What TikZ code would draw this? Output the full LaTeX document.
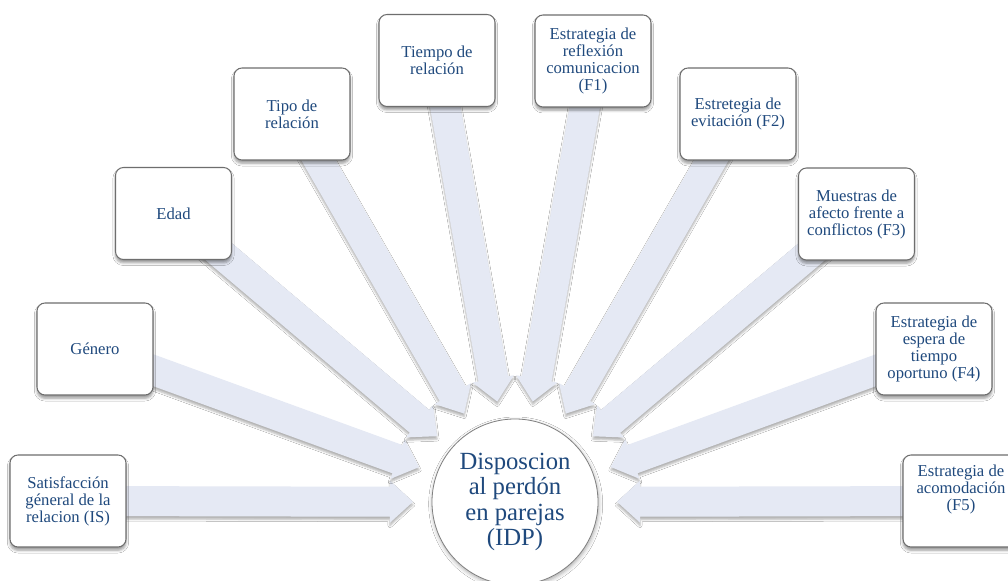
\documentclass[tikz,border=0pt]{standalone}
\usepackage{fontspec}
\setmainfont{Liberation Serif}
\usetikzlibrary{calc,shadows.blur}
\definecolor{txt}{HTML}{1F497D}
\definecolor{arrfill}{RGB}{229,233,244}
\definecolor{bordergray}{HTML}{6E6E6E}
\pgfdeclarelayer{bg}
\pgfsetlayers{bg,main}
\tikzset{
  box/.style={draw=bordergray, line width=0.8pt, fill=white, rounded corners=6pt,
    minimum width=87pt, minimum height=69pt, align=center, text=txt,
    font=\fontsize{12.5}{12.75}\selectfont, inner sep=1pt,
    blur shadow={shadow xshift=0pt, shadow yshift=-2.5pt, shadow blur radius=2pt, shadow opacity=40}},
  boxtext/.style={align=center, text=txt, font=\fontsize{12.5}{12.75}\selectfont, inner sep=0pt},
  hub/.style={circle, draw=gray, line width=0.6pt, fill=white, minimum size=124.5pt, inner sep=0pt,
    blur shadow={shadow xshift=0.5pt, shadow yshift=-1.5pt, shadow blur radius=3pt, shadow opacity=35}},
  hubtext/.style={align=center, text=txt, font=\fontsize{18.5}{19}\selectfont, inner sep=0pt},
  blockarr/.style={fill=arrfill,
    blur shadow={shadow xshift=0pt, shadow yshift=-2.2pt, shadow blur radius=1.5pt, shadow opacity=30}},
}
\newcommand\radarrow[1]{%
  \coordinate (T) at ($(idp.center)!76.5pt!(#1.center)$);
  \coordinate (H) at ($(idp.center)!93.75pt!(#1.center)$);
  \path[blockarr] (T) -- ($(H)!15.75pt!90:(T)$) -- ($(H)!11.25pt!90:(T)$)
    -- ($(#1.center)!11.25pt!90:(T)$) -- ($(#1.center)!11.25pt!-90:(T)$)
    -- ($(H)!11.25pt!-90:(T)$) -- ($(H)!15.75pt!-90:(T)$) -- cycle;
}
\begin{document}
\begin{tikzpicture}[x=0.75pt,y=-0.75pt]
\clip (0,0) rectangle (1008,581);

\node[hub] (idp) at (515,502) {};
\node[hubtext] (idpt) at (515,502) {Disposcion\\al perdón\\en parejas\\(IDP)};

\node[box] (is) at (68,501) {Satisfacción\\géneral de la\\relacion (IS)};
\node[box] (gen) at (95,349) {Género};
\node[box] (edad) at (173.5,213.5) {Edad};
\node[box] (tipo) at (292,114) {Tipo de\\relación};
\node[box] (tiempo) at (437,60.5) {Tiempo de\\relación};
\node[box] (f1) at (593,61) {Estrategia de\\reflexión\\comunicacion\\(F1)};
\node[box] (f2) at (738,114) {Estretegia de\\evitación (F2)};
\node[box] (f3) at (856.5,214) {Muestras de\\afecto frente a\\conflictos (F3)};
\node[box] (f4) at (934,349) {Estrategia de\\espera de\\tiempo\\oportuno (F4)};
\node[box] (f5) at (961,501) {};
\node[boxtext] (f5t) at (961,489) {Estrategia de\\acomodación\\(F5)};

\begin{pgfonlayer}{bg}
\fill[white] (0,0) rectangle (1008,581);
\radarrow{is}
\radarrow{gen}
\radarrow{edad}
\radarrow{tipo}
\radarrow{tiempo}
\radarrow{f1}
\radarrow{f2}
\radarrow{f3}
\radarrow{f4}
\radarrow{f5}
\end{pgfonlayer}
\end{tikzpicture}
\end{document}
